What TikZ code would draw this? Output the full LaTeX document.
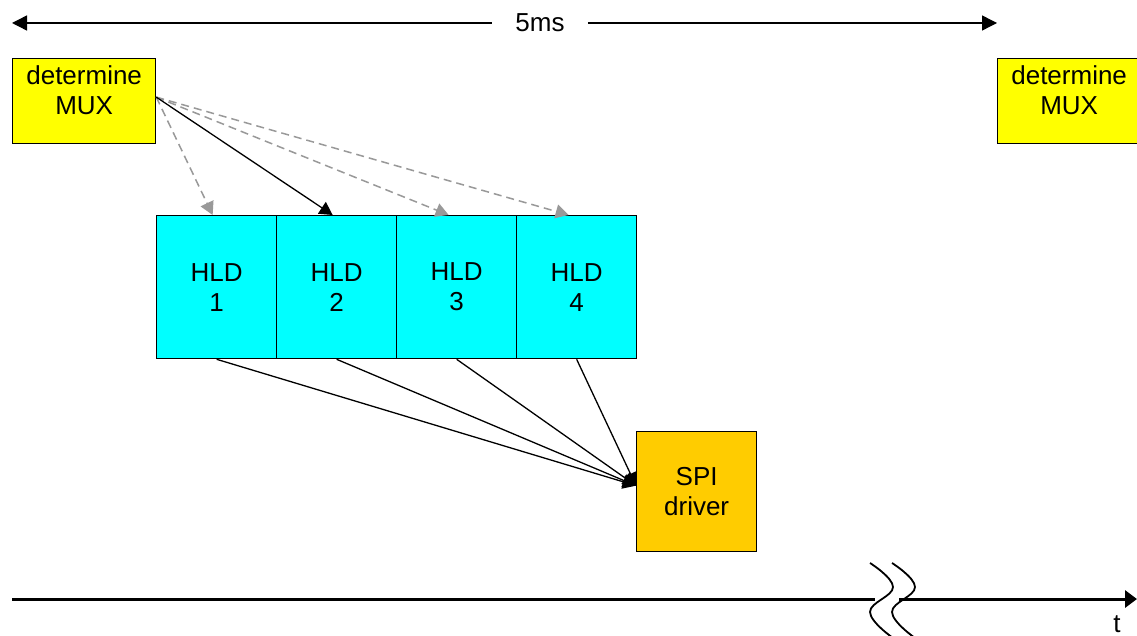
\documentclass[tikz,border=0pt]{standalone}
\usepackage{fontspec}
\setmainfont{Liberation Sans}
\usetikzlibrary{arrows.meta}
\definecolor{muxyellow}{HTML}{FFFF00}
\definecolor{hldcyan}{HTML}{00FFFF}
\definecolor{spiorange}{HTML}{FFCC00}
\definecolor{hintgray}{HTML}{999999}
\tikzset{
  lbl/.style={font=\fontsize{26}{30}\selectfont, align=center, inner sep=0pt},
  taskbox/.style={lbl, draw=black, line width=1.3pt, anchor=north west},
  muxbox/.style={taskbox, fill=muxyellow, minimum width=143pt, minimum height=85pt,
    label={[lbl, yshift=11pt]center:{determine\\MUX}}},
  hldbox/.style={taskbox, fill=hldcyan, minimum width=120pt, minimum height=143pt},
  spibox/.style={taskbox, fill=spiorange, minimum width=120pt, minimum height=120pt},
  tip/.style={-{Triangle[length=13pt,width=14pt]}},
  flow/.style={tip, line width=1.3pt, black},
  hint/.style={tip, line width=1.5pt, hintgray, dash pattern=on 8pt off 5pt},
  span/.style={line width=1.4pt, black},
  axis/.style={line width=3pt, black},
  brk/.style={line width=1.8pt, black},
}
\begin{document}
\begin{tikzpicture}[x=1pt,y=-1pt]
\useasboundingbox[fill=white] (0,0) rectangle (1137,636);

% period marker
\node[lbl, inner xsep=23pt] (dur) at (540,23) {5ms};
\coordinate (pl) at (12,23);
\coordinate (pr) at (997,23);
\draw[span, {Triangle[length=15pt,width=15pt]}-] (pl) -- (dur.west);
\draw[span, -{Triangle[length=15pt,width=15pt]}] (dur.east) -- (pr);

% tasks
\node[muxbox] (mux1) at (12,58) {};
\node[muxbox] (mux2) at (997,58) {};
\node[hldbox] (h1) at (156,215) {HLD\\1};
\node[hldbox] (h2) at (276,215) {HLD\\2};
\node[hldbox] (h3) at (396,215) {HLD\\3};
\node[hldbox] (h4) at (516,215) {HLD\\4};
\node[spibox] (spi) at (636,431) {SPI\\driver};

% MUX selection
\coordinate (src) at ([yshift=4pt]mux1.east);
\draw[hint] (src) -- ([xshift=-4pt]h1.north);
\draw[hint] (src) -- ([xshift=-8pt]h3.north);
\draw[hint] (src) -- ([xshift=-8pt]h4.north);
\draw[flow] (src) -- ([xshift=-4pt]h2.north);

% HLD outputs to SPI
\coordinate (spiin) at ([yshift=6pt]spi.west);
\draw[flow] (h1.south) -- (spiin);
\draw[flow] (h2.south) -- (spiin);
\draw[flow] (h3.south) -- (spiin);
\draw[flow] (h4.south) -- (spiin);

% time axis with break
\coordinate (t0) at (12,599);
\coordinate (tb1) at (875,599);
\coordinate (tb2) at (899,599);
\coordinate (t1) at (1137,599);
\draw[axis] (t0) -- (tb1);
\draw[axis, -{Triangle[length=12pt,width=17pt]}] (tb2) -- (t1);
\draw[brk] plot[smooth, tension=0.7] coordinates {(870,563) (893,587) (870,612) (893,638)};
\draw[brk] plot[smooth, tension=0.7] coordinates {(892,563) (915,587) (892,612) (915,638)};
\node[lbl, anchor=base] (tl) at (1117,632) {t};
\end{tikzpicture}
\end{document}
